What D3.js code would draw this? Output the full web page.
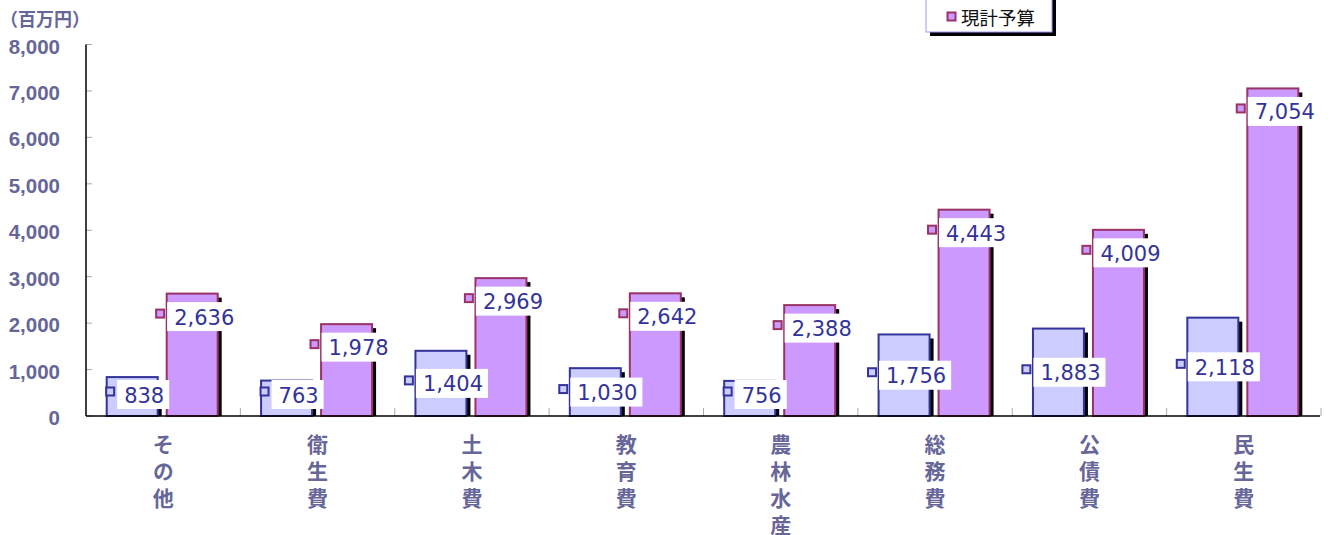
<!DOCTYPE html>
<html><head><meta charset="utf-8">
<script src="https://cdn.jsdelivr.net/npm/d3@7"></script>
<style>body{margin:0;background:#fff}svg{display:block}</style>
</head><body>
<svg id="c" width="1331" height="535"></svg>
<script>
const categories = ["その他","衛生費","土木費","教育費","農林水産","総務費","公債費","民生費"];
const baseBudget = [838,763,1404,1030,756,1756,1883,2118];
const currentBudget = [2636,1978,2969,2642,2388,4443,4009,7054];
const legendLabels = ["現計予算"];
const yTicks = [0,1000,2000,3000,4000,5000,6000,7000,8000];
const unitLabel = "（百万円）";

const seriesValues = [baseBudget, currentBudget];
const fills = ["#ccccff","#cc99ff"];
const strokes = ["#333399","#993366"];
const axisColor = "#666699";

const svg = d3.select("#c");
const y = d3.scaleLinear().domain([0,8000]).range([416,44.5]);
const x0 = d3.scaleBand().domain(categories).range([86,1321]);
const x1 = d3.scaleBand().domain([0,1]).range([20.7,131.7]).paddingInner(0.15);
const bw = x1.bandwidth();
const base = y(0);

// unit label
svg.append("text").attr("x",0).attr("y",18).attr("dominant-baseline","central")
  .attr("font-family","'Noto Sans CJK JP',sans-serif").attr("font-weight","bold")
  .attr("font-size",18).attr("fill",axisColor).text(unitLabel);

// y ticks and labels
svg.selectAll(".yt").data(yTicks).enter().append("line")
  .attr("x1",86).attr("x2",92).attr("y1",d=>y(d)).attr("y2",d=>y(d))
  .attr("stroke","#aaaaaa").attr("stroke-width",1);
svg.selectAll(".yl").data(yTicks).enter().append("text")
  .attr("x",60).attr("y",d=>y(d)+1.5).attr("text-anchor","end").attr("dominant-baseline","central")
  .attr("font-family","'Liberation Sans',Arial,sans-serif").attr("font-weight","bold")
  .attr("font-size",20.5).attr("fill",axisColor).text(d=>d3.format(",")(d));

// category separator ticks
svg.selectAll(".ct").data(categories).enter().append("line")
  .attr("x1",d=>x0(d)+x0.step()).attr("x2",d=>x0(d)+x0.step())
  .attr("y1",base-8).attr("y2",base).attr("stroke","#aaaaaa").attr("stroke-width",1);

// bars
const bars = [];
seriesValues.forEach((vals,s)=>{
  vals.forEach((v,i)=>{
    bars.push({s, v, cat:categories[i], x:x0(categories[i])+x1(s)});
  });
});
const g = svg.append("g");
g.selectAll(".sh").data(bars).enter().append("rect")
  .attr("x",d=>d.x+4).attr("y",d=>y(d.v)+4).attr("width",bw)
  .attr("height",d=>Math.max(0,base-y(d.v)-4)).attr("fill","#000");
g.selectAll(".b").data(bars).enter().append("rect")
  .attr("x",d=>d.x).attr("y",d=>y(d.v)).attr("width",bw).attr("height",d=>base-y(d.v))
  .attr("fill",d=>fills[d.s]).attr("stroke",d=>strokes[d.s]).attr("stroke-width",2);

// axes lines
svg.append("line").attr("x1",86).attr("x2",86).attr("y1",y(8000)).attr("y2",base)
  .attr("stroke","#000").attr("stroke-width",1.5);
svg.append("line").attr("x1",86).attr("x2",1320).attr("y1",base).attr("y2",base)
  .attr("stroke","#000").attr("stroke-width",1.5);

// x labels (vertical writing)
svg.selectAll(".xl").data(categories).enter().append("text")
  .attr("x",d=>x0(d)+x0.bandwidth()/2).attr("y",434)
  .attr("style","writing-mode:vertical-rl;text-orientation:upright;letter-spacing:6px")
  .attr("font-family","'Noto Sans CJK JP',sans-serif")
  .attr("font-weight","bold").attr("font-size",21).attr("fill",axisColor).text(d=>d);

// data labels
const lg = svg.append("g");
bars.forEach(d=>{
  const top = y(d.v), mid = (top+base)/2;
  const cy = d.s===0 ? Math.min(mid, base-21.5) : top+23;
  const grp = lg.append("g");
  const txt = grp.append("text").attr("font-family","'DejaVu Sans',sans-serif").attr("font-size",21)
    .attr("fill","#333399").attr("dominant-baseline","central").text(d3.format(",")(d.v));
  const tw = txt.node().getComputedTextLength();
  const boxW = tw+12, total = 9+3+boxW;
  const left = d.x + bw/2 + 5 - total/2;
  const boxX = left+12;
  grp.insert("rect","text").attr("x",boxX).attr("y",cy-14.5).attr("width",boxW).attr("height",29).attr("fill","#fff");
  txt.attr("x",boxX+7).attr("y",cy+1);
  grp.append("rect").attr("x",left+1).attr("y",cy-3-4).attr("width",8).attr("height",8)
    .attr("fill",fills[d.s]).attr("stroke",strokes[d.s]).attr("stroke-width",2);
});

// legend (partially off the top)
const leg = svg.append("g");
leg.append("rect").attr("x",930).attr("y",-20).attr("width",126).attr("height",56).attr("fill","#000");
leg.append("rect").attr("x",926).attr("y",-24).attr("width",126).attr("height",56)
  .attr("fill","#fff").attr("stroke","#9999ff").attr("stroke-width",1);
legendLabels.forEach((lab,i)=>{
  leg.append("rect").attr("x",947.5).attr("y",12.5).attr("width",8).attr("height",8)
    .attr("fill",fills[1]).attr("stroke",strokes[1]).attr("stroke-width",2);
  leg.append("text").attr("x",961).attr("y",17).attr("dominant-baseline","central")
    .attr("font-family","'Noto Sans CJK JP',sans-serif").attr("font-size",18.5).attr("fill","#111").text(lab);
});
</script>
</body></html>
